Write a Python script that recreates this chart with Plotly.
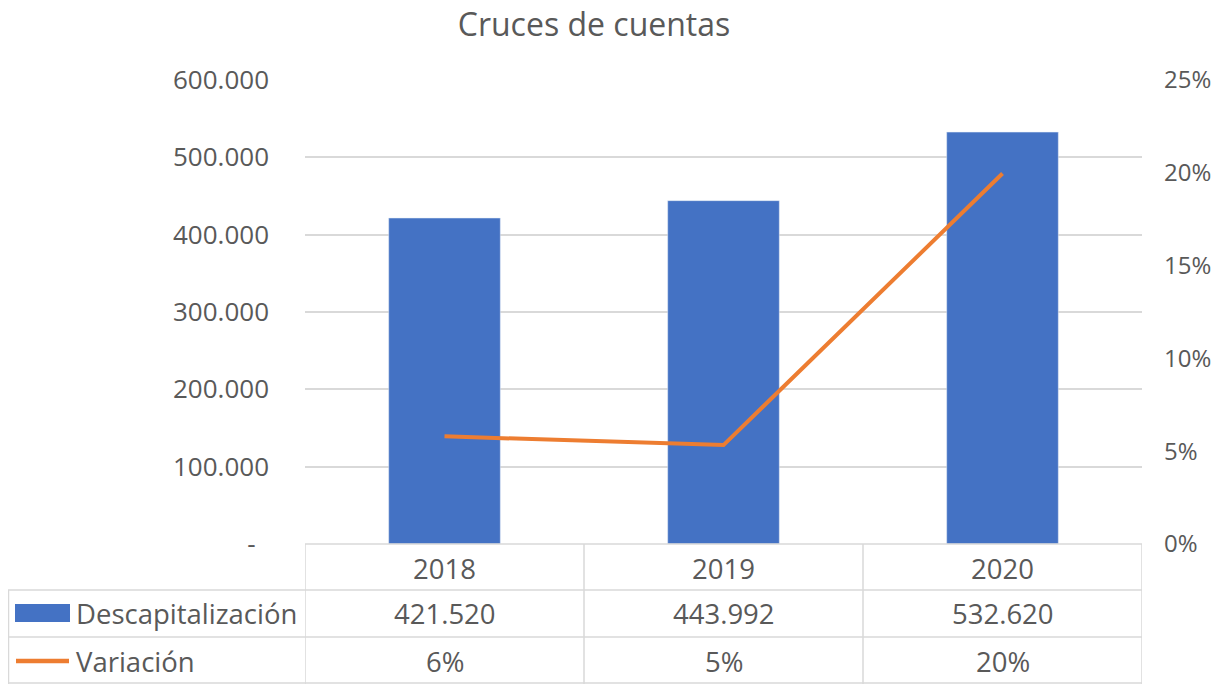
import plotly.graph_objects as go

# ---- data ----
years = ["2018", "2019", "2020"]
descapitalizacion = [421520, 443992, 532620]
variacion = [0.058, 0.0533, 0.1996]
left_tick_vals = [0, 100000, 200000, 300000, 400000, 500000, 600000]
right_tick_vals = [0, 0.05, 0.10, 0.15, 0.20, 0.25]
series_names = ["Descapitalización", "Variación"]
chart_title = "Cruces de cuentas"

# ---- style ----
OFF = 8  # page body margin
W, H = 1221 - OFF, 684 - OFF
# plot area in page pixels
PL, PR, PT, PB = 305, 1142, 80, 544
L, R, T, B = PL - OFF, PR - OFF, PT - OFF, PB - OFF
BLUE = "#4472C4"
ORANGE = "#ED7D31"
TXT = "#595959"
GRID = "#D9D9D9"
FONT = "Open Sans"
FS_AX = 26
FS_AX2 = 24
FS_TAB = 27.5


def fmt_thousands(v):
    return f"{v:,.0f}".replace(",", ".")


def px_x(px):  # page pixel -> paper
    return (px - PL) / (PR - PL)


def px_y(py):
    return (PB - py) / (PB - PT)


left_tick_text = [("-" + "\u00a0" * 2) if v == 0 else fmt_thousands(v) for v in left_tick_vals]

fig = go.Figure()
fig.add_trace(go.Bar(x=years, y=descapitalizacion, name=series_names[0],
                     marker_color=BLUE, width=0.4, yaxis="y"))
fig.add_trace(go.Scatter(x=years, y=variacion, name=series_names[1], mode="lines",
                         line=dict(color=ORANGE, width=4), yaxis="y2"))

shapes = []
line_style = dict(color=GRID, width=1.5)
shapes.append(dict(type="line", xref="paper", yref="paper", x0=0, x1=1,
                   y0=px_y(544), y1=px_y(544), line=line_style))
for py in [590, 637, 683]:
    shapes.append(dict(type="line", xref="paper", yref="paper", x0=px_x(8), x1=1,
                       y0=px_y(py), y1=px_y(py), line=line_style))
shapes.append(dict(type="line", xref="paper", yref="paper", x0=px_x(8.5), x1=px_x(8.5),
                   y0=px_y(590), y1=px_y(690), line=line_style))
for i in range(len(years) + 1):
    shapes.append(dict(type="line", xref="x", yref="paper", x0=i - 0.5, x1=i - 0.5,
                       y0=px_y(544), y1=px_y(690), line=line_style))
# legend keys
shapes.append(dict(type="rect", xref="paper", yref="paper", x0=px_x(15), x1=px_x(70),
                   y0=px_y(622), y1=px_y(604), fillcolor=BLUE, line=dict(width=0)))
shapes.append(dict(type="line", xref="paper", yref="paper", x0=px_x(16), x1=px_x(69),
                   y0=px_y(661), y1=px_y(661), line=dict(color=ORANGE, width=4.5)))

annotations = []
row_y = [568, 613, 661]
tab_font = dict(family=FONT, size=FS_TAB, color=TXT)
for i, yr in enumerate(years):
    cells = [yr, fmt_thousands(descapitalizacion[i]), f"{variacion[i]*100:.0f}%"]
    for txt, py in zip(cells, row_y):
        annotations.append(dict(x=i, y=px_y(py), xref="x", yref="paper", text=txt,
                                xanchor="center", yanchor="middle",
                                showarrow=False, font=tab_font))
for name, py in zip(series_names, row_y[1:]):
    annotations.append(dict(x=px_x(74), y=px_y(py), xref="paper", yref="paper", text=name,
                            xanchor="left", yanchor="middle", showarrow=False, font=tab_font))

fig.update_layout(
    width=W, height=H,
    margin=dict(l=L, r=W - R, t=T, b=H - B, autoexpand=False),
    paper_bgcolor="white", plot_bgcolor="white",
    showlegend=False,
    title=dict(text=chart_title, x=(594 - OFF) / W, xref="container", xanchor="center",
               y=1 - (25 - OFF) / H, yref="container", yanchor="middle",
               font=dict(family=FONT, size=32, color=TXT)),
    font=dict(family=FONT, size=FS_AX, color=TXT),
    xaxis=dict(type="category", range=[-0.5, len(years) - 0.5], showticklabels=False,
               showgrid=False, zeroline=False, showline=False, ticks=""),
    yaxis=dict(range=[0, 600000], tickvals=left_tick_vals, ticktext=left_tick_text,
               showgrid=True, gridcolor=GRID, gridwidth=1.5, zeroline=False,
               showline=False, ticks="", ticklabelstandoff=35,
               tickfont=dict(family=FONT, size=FS_AX, color=TXT)),
    yaxis2=dict(range=[0, 0.25], tickvals=right_tick_vals, tickformat=".0%",
                overlaying="y", side="right", showgrid=False, zeroline=False,
                showline=False, ticks="", ticklabelstandoff=21,
                tickfont=dict(family=FONT, size=FS_AX2, color=TXT)),
    shapes=shapes, annotations=annotations,
)

fig.write_html("out.html")
